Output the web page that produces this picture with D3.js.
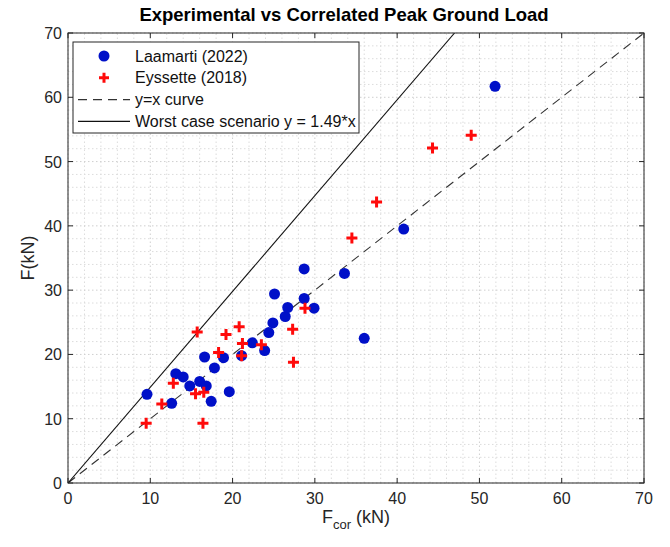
<!DOCTYPE html>
<html>
<head>
<meta charset="utf-8">
<script src="https://cdn.jsdelivr.net/npm/d3@7"></script>
<style>
  body { margin: 0; background: #fff; }
  svg { font-family: "Liberation Sans", Arial, sans-serif; }
</style>
</head>
<body>
<div id="chart"></div>
<script>
// Laamarti (2022): [F_cor, F]
const laamarti = [
    [9.6, 13.8], [12.6, 12.4], [13.1, 17.0], [14.0, 16.5], [14.8, 15.1],
    [16.0, 15.8], [16.8, 15.1], [17.4, 12.7], [16.6, 19.6], [17.8, 17.9],
    [18.9, 19.5], [19.6, 14.2], [21.1, 19.8], [22.4, 21.8], [23.9, 20.6],
    [24.4, 23.4], [24.9, 24.9], [26.4, 25.9], [26.7, 27.3], [25.1, 29.4],
    [28.7, 28.7], [29.9, 27.2], [28.7, 33.3], [33.6, 32.6], [36.0, 22.5],
    [40.8, 39.5], [51.9, 61.7]
];
// Eyssette (2018)
const eyssette = [
    [9.5, 9.3], [11.4, 12.3], [12.8, 15.5], [15.5, 13.9], [15.7, 23.5],
    [16.5, 14.1], [16.4, 9.3], [18.3, 20.3], [19.2, 23.1], [20.8, 24.3],
    [21.2, 21.7], [21.1, 19.8], [23.5, 21.5], [27.3, 23.9], [27.4, 18.8],
    [28.8, 27.2], [34.5, 38.1], [37.5, 43.7], [44.3, 52.1], [49.0, 54.1]
];
const worstSlope = 1.49;
const majorTicks = [0, 10, 20, 30, 40, 50, 60, 70];
const minorTicks = d3.range(0, 71, 2);

const width = 670;
const height = 547;
const margin = { left: 68, right: 26, top: 33, bottom: 64 };

const svg = d3.select("#chart")
    .append("svg")
    .attr("width", width)
    .attr("height", height);

const x = d3.scaleLinear().domain([0, 70]).range([margin.left, width - margin.right]);
const y = d3.scaleLinear().domain([0, 70]).range([height - margin.bottom, margin.top]);

// grid
const grid = svg.append("g");
grid.selectAll("line.vx")
    .data(minorTicks)
    .enter().append("line")
    .attr("x1", d => x(d)).attr("x2", d => x(d))
    .attr("y1", y(0)).attr("y2", y(70))
    .attr("stroke", d => d % 10 === 0 ? "#cfcfcf" : "#dcdcdc")
    .attr("stroke-width", 1)
    .attr("stroke-dasharray", "1.5,2.5");
grid.selectAll("line.hy")
    .data(minorTicks)
    .enter().append("line")
    .attr("y1", d => y(d)).attr("y2", d => y(d))
    .attr("x1", x(0)).attr("x2", x(70))
    .attr("stroke", d => d % 10 === 0 ? "#cfcfcf" : "#dcdcdc")
    .attr("stroke-width", 1)
    .attr("stroke-dasharray", "1.5,2.5");

// reference lines
svg.append("clipPath").attr("id", "clip")
    .append("rect")
    .attr("x", x(0)).attr("y", y(70))
    .attr("width", x(70) - x(0)).attr("height", y(0) - y(70));

const line = d3.line().x(d => x(d[0])).y(d => y(d[1]));

svg.append("path")
    .attr("clip-path", "url(#clip)")
    .attr("d", line([[0, 0], [70, 70]]))
    .attr("fill", "none")
    .attr("stroke", "#333")
    .attr("stroke-width", 1.1)
    .attr("stroke-dasharray", "9,6");

svg.append("path")
    .attr("clip-path", "url(#clip)")
    .attr("d", line([[0, 0], [70 / worstSlope, 70]]))
    .attr("fill", "none")
    .attr("stroke", "#111")
    .attr("stroke-width", 1.1);

// points
const blue = "#0010c8";
const red = "#ff0a0a";
svg.append("g").selectAll("circle")
    .data(laamarti)
    .enter().append("circle")
    .attr("cx", d => x(d[0]))
    .attr("cy", d => y(d[1]))
    .attr("r", 5.5)
    .attr("fill", blue);

function drawPlus(sel, s) {
    sel.append("path")
        .attr("d", `M${-s},0H${s}M0,${-s}V${s}`)
        .attr("stroke", red)
        .attr("stroke-width", 3)
        .attr("fill", "none");
}
svg.append("g").selectAll("g")
    .data(eyssette)
    .enter().append("g")
    .attr("transform", d => `translate(${x(d[0])},${y(d[1])})`)
    .each(function () { drawPlus(d3.select(this), 5.5); });

// axes box with inward ticks
const axisColor = "#262626";
svg.append("rect")
    .attr("x", x(0)).attr("y", y(70))
    .attr("width", x(70) - x(0)).attr("height", y(0) - y(70))
    .attr("fill", "none")
    .attr("stroke", axisColor)
    .attr("stroke-width", 1);

const tickLen = 5;
const ticks = svg.append("g").attr("stroke", axisColor).attr("stroke-width", 1);
majorTicks.forEach(t => {
    ticks.append("line").attr("x1", x(t)).attr("x2", x(t)).attr("y1", y(0)).attr("y2", y(0) - tickLen);
    ticks.append("line").attr("x1", x(t)).attr("x2", x(t)).attr("y1", y(70)).attr("y2", y(70) + tickLen);
    ticks.append("line").attr("y1", y(t)).attr("y2", y(t)).attr("x1", x(0)).attr("x2", x(0) + tickLen);
    ticks.append("line").attr("y1", y(t)).attr("y2", y(t)).attr("x1", x(70)).attr("x2", x(70) - tickLen);
});

svg.append("g").selectAll("text")
    .data(majorTicks)
    .enter().append("text")
    .attr("x", d => x(d))
    .attr("y", y(0) + 21)
    .attr("text-anchor", "middle")
    .attr("font-size", 16)
    .attr("fill", axisColor)
    .text(d => d);

svg.append("g").selectAll("text")
    .data(majorTicks)
    .enter().append("text")
    .attr("x", x(0) - 6)
    .attr("y", d => y(d) + 6)
    .attr("text-anchor", "end")
    .attr("font-size", 16)
    .attr("fill", axisColor)
    .text(d => d);

// labels
const xl = svg.append("text")
    .attr("x", (x(0) + x(70)) / 2)
    .attr("y", y(0) + 40)
    .attr("text-anchor", "middle")
    .attr("font-size", 18)
    .attr("fill", axisColor);
xl.append("tspan").text("F");
xl.append("tspan").attr("font-size", 13).attr("dy", 6).text("cor");
xl.append("tspan").attr("dy", -6).text(" (kN)");

svg.append("text")
    .attr("transform", `translate(34,${(y(0) + y(70)) / 2}) rotate(-90)`)
    .attr("text-anchor", "middle")
    .attr("font-size", 18)
    .attr("fill", axisColor)
    .text("F(kN)");

svg.append("text")
    .attr("x", 344)
    .attr("y", 21)
    .attr("text-anchor", "middle")
    .attr("font-size", 18.5)
    .attr("font-weight", "bold")
    .attr("fill", "#000")
    .text("Experimental vs Correlated Peak Ground Load");

// legend
const legend = svg.append("g").attr("transform", "translate(73,42)");
legend.append("rect")
    .attr("width", 286).attr("height", 91)
    .attr("fill", "#fff")
    .attr("stroke", axisColor)
    .attr("stroke-width", 1);

const items = [
    { label: "Laamarti (2022)", kind: "circle" },
    { label: "Eyssette (2018)", kind: "plus" },
    { label: "y=x curve", kind: "dash" },
    { label: "Worst case scenario y = 1.49*x", kind: "solid" }
];
items.forEach((it, i) => {
    const cy = 14 + i * 21.8;
    const g = legend.append("g").attr("transform", `translate(0,${cy})`);
    if (it.kind === "circle") {
        g.append("circle").attr("cx", 31).attr("cy", 0).attr("r", 5.5).attr("fill", blue);
    } else if (it.kind === "plus") {
        const p = g.append("g").attr("transform", "translate(31,0)");
        drawPlus(p, 5);
    } else {
        g.append("line").attr("x1", 5).attr("x2", 57).attr("y1", 0).attr("y2", 0)
            .attr("stroke", it.kind === "dash" ? "#333" : "#111")
            .attr("stroke-width", 1.1)
            .attr("stroke-dasharray", it.kind === "dash" ? "9,6" : null);
    }
    g.append("text")
        .attr("x", 62)
        .attr("y", 5.5)
        .attr("font-size", 16)
        .attr("fill", "#111")
        .text(it.label);
});
</script>
</body>
</html>
